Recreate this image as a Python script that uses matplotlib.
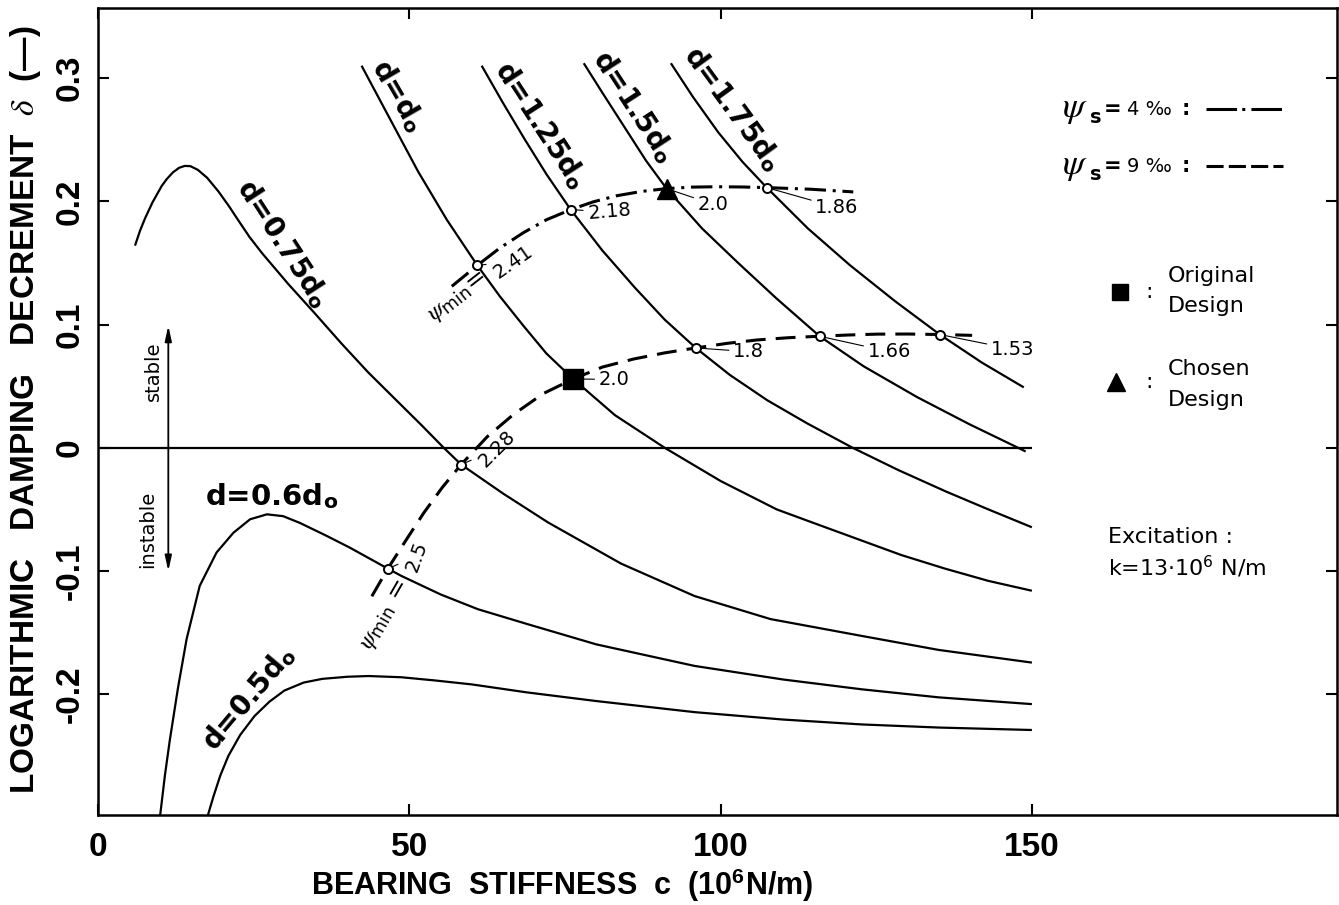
import matplotlib
matplotlib.use("Agg")
import matplotlib.pyplot as plt

plt.rcParams['mathtext.fontset'] = 'stix'
plt.rcParams['axes.unicode_minus'] = False

# bearing stiffness c (10^6 N/m) and log. damping decrement for each bearing diameter
c_050 = [17.5, 18.5, 19.6, 20.9, 22.8, 25.1, 27.5, 29.9, 33.0, 36.0, 40.0, 43.4, 48.7, 54.1,
         60.0, 68.9, 80.0, 95.8, 110.0, 122.7, 135.0, 150.0]
d_050 = [-0.30, -0.283, -0.266, -0.25, -0.233, -0.2177, -0.206, -0.197, -0.1905, -0.1875,
         -0.1858, -0.1852, -0.1862, -0.1888, -0.192, -0.1985, -0.2055, -0.2145, -0.2205,
         -0.2245, -0.227, -0.229]

c_060 = [9.9, 10.7, 11.5, 12.8, 14.2, 16.3, 19.0, 21.7, 24.4, 27.1, 29.7, 32.4, 36.5, 40.4,
         46.5, 48.7, 55.0, 61.0, 68.9, 80.0, 95.8, 110.0, 122.7, 135.0, 150.0]
d_060 = [-0.30, -0.266, -0.237, -0.195, -0.155, -0.112, -0.085, -0.069, -0.058, -0.054,
         -0.0555, -0.061, -0.071, -0.081, -0.098, -0.104, -0.119, -0.131, -0.143, -0.1595,
         -0.177, -0.188, -0.196, -0.2025, -0.208]

c_075 = [5.9, 6.7, 7.5, 8.7, 10.2, 11.0, 12.0, 13.0, 13.9, 14.8, 16.0, 17.5, 19.3, 21.0,
         22.5, 24.3, 26.3, 30.5, 34.8, 39.0, 43.4, 48.5, 52.0, 55.5, 58.3, 65.0, 72.3, 84.0,
         95.8, 108.0, 122.7, 135.0, 150.0]
d_075 = [0.164, 0.176, 0.186, 0.199, 0.2125, 0.218, 0.2235, 0.2272, 0.2287, 0.2285, 0.2255,
         0.219, 0.208, 0.196, 0.1845, 0.171, 0.158, 0.133, 0.109, 0.085, 0.061, 0.0355, 0.018,
         0.0, -0.0136, -0.037, -0.0607, -0.094, -0.1203, -0.139, -0.1527, -0.164, -0.1743]

c_100 = [42.3, 46.0, 51.4, 56.0, 60.9, 64.5, 68.3, 72.0, 76.3, 83.0, 91.0, 100.0, 109.0,
         116.0, 122.5, 129.0, 136.0, 143.0, 150.0]
d_100 = [0.31, 0.275, 0.224, 0.185, 0.148, 0.123, 0.099, 0.0765, 0.0558, 0.0265, 0.0, -0.027,
         -0.050, -0.063, -0.075, -0.087, -0.098, -0.108, -0.116]

c_125 = [61.6, 65.0, 68.5, 72.0, 75.9, 81.0, 86.2, 91.0, 96.0, 101.5, 107.5, 114.0, 121.2,
         128.5, 136.2, 143.0, 150.0]
d_125 = [0.31, 0.280, 0.2504, 0.222, 0.1932, 0.160, 0.130, 0.104, 0.081, 0.059, 0.0385,
         0.0195, 0.0, -0.018, -0.0355, -0.050, -0.0645]

c_150 = [78.0, 81.0, 85.2, 88.0, 91.3, 97.0, 102.8, 109.0, 115.9, 123.0, 131.6, 140.0, 149.0]
d_150 = [0.312, 0.288, 0.255, 0.233, 0.2103, 0.178, 0.150, 0.121, 0.0905, 0.066, 0.041,
         0.019, -0.003]

c_175 = [92.0, 95.5, 99.6, 103.5, 107.4, 114.0, 120.8, 128.0, 135.2, 142.0, 148.7]
d_175 = [0.312, 0.285, 0.256, 0.232, 0.2111, 0.178, 0.148, 0.119, 0.0919, 0.069, 0.049]

# minimum-psi lines for psi_s = 4 permille and 9 permille
c_psi4 = [56.8, 60.9, 64.5, 68.3, 72.0, 75.9, 79.5, 83.3, 87.3, 91.3, 95.4, 99.4, 103.4,
          107.4, 114.4, 121.3]
d_psi4 = [0.131, 0.148, 0.162, 0.1745, 0.185, 0.1932, 0.1995, 0.2045, 0.208, 0.2103, 0.2115,
          0.2118, 0.2116, 0.2111, 0.2098, 0.2076]
c_psi9 = [43.95, 46.5, 49.5, 52.3, 55.3, 58.3, 62.5, 66.7, 71.5, 76.3, 81.0, 86.0, 91.0, 96.0,
          101.0, 105.9, 110.9, 115.9, 120.5, 125.1, 130.0, 135.2, 140.4]
d_psi9 = [-0.1205, -0.0982, -0.0745, -0.0528, -0.032, -0.0136, 0.009, 0.027, 0.044, 0.0558,
          0.0655, 0.072, 0.077, 0.081, 0.0847, 0.0875, 0.0893, 0.0905, 0.0915, 0.0922, 0.0923,
          0.0919, 0.0912]

# marked points and their psi_min values
mark_c = [60.9, 75.9, 107.4, 46.5, 58.3, 96.0, 115.9, 135.2]
mark_d = [0.148, 0.1932, 0.2111, -0.0982, -0.0136, 0.081, 0.0905, 0.0919]
orig_c, orig_d = 76.3, 0.0558
chosen_c, chosen_d = 91.3, 0.2103

# (text, marker c, marker d, text c, text d, rotation, ha)
value_labels = [
    ("2.41", 60.9, 0.148, 66.7, 0.151, 35, "center"),
    ("2.18", 75.9, 0.1932, 78.7, 0.190, 5, "left"),
    ("2.0", 91.3, 0.2103, 96.3, 0.1976, 0, "left"),
    ("1.86", 107.4, 0.2111, 115.2, 0.195, 0, "left"),
    ("2.0", 76.3, 0.0558, 80.4, 0.0555, 0, "left"),
    ("1.8", 96.0, 0.081, 102.0, 0.078, 0, "left"),
    ("1.66", 115.9, 0.0905, 123.6, 0.078, 0, "left"),
    ("1.53", 135.2, 0.0919, 143.4, 0.080, 0, "left"),
    ("2.28", 58.3, -0.0136, 64.1, -0.001, 45, "center"),
    ("2.5", 46.5, -0.0982, 51.1, -0.088, 70, "center"),
]

sub_o = "$_\\mathregular{o}$"
curve_labels = [
    ("d=0.75d" + sub_o, 29.7, 0.166, -57, "center"),
    ("d=d" + sub_o, 48.2, 0.286, -60, "center"),
    ("d=1.25d" + sub_o, 71.1, 0.262, -57, "center"),
    ("d=1.5d" + sub_o, 86.0, 0.277, -57, "center"),
    ("d=1.75d" + sub_o, 101.9, 0.275, -54, "center"),
    ("d=0.5d" + sub_o, 24.2, -0.203, 50, "center"),
]

txt_font = ['DejaVu Sans']
axis_font = ['Liberation Sans', 'DejaVu Sans']

fig = plt.figure(figsize=(13.39, 9.05), dpi=100)
ax = fig.add_axes([0.0734, 0.0994, 0.925, 0.892])

for c, d in [(c_050, d_050), (c_060, d_060), (c_075, d_075), (c_100, d_100),
             (c_125, d_125), (c_150, d_150), (c_175, d_175)]:
    ax.plot(c, d, color='black', lw=1.6, solid_capstyle='butt', solid_joinstyle='round')

ax.hlines(0, 0, 150, color='black', lw=1.6)

ax.plot(c_psi4, d_psi4, color='black', lw=2.2, dashes=(7, 2.2, 1, 2.2))
ax.plot(c_psi9, d_psi9, color='black', lw=2.2, dashes=(6.5, 3.3))

for txt, mc, md, tc, td, rot, ha in value_labels:
    ax.annotate(txt, xy=(mc, md), xytext=(tc, td), rotation=rot, ha=ha, va='center',
                fontsize=14, family=txt_font, rotation_mode='anchor',
                arrowprops=dict(arrowstyle='-', lw=0.8, color='black', shrinkA=1, shrinkB=2))

ax.plot(mark_c, mark_d, 'o', ms=6.5, mfc='white', mec='black', mew=1.4, zorder=5)
ax.plot(orig_c, orig_d, 's', ms=14, color='black', zorder=5)
ax.plot(chosen_c, chosen_d, '^', ms=15, color='black', zorder=5)

for txt, x, y, rot, ha in curve_labels:
    ax.text(x, y, txt, rotation=rot, ha=ha, va='center', fontsize=20, fontweight='bold',
            family=txt_font, rotation_mode='anchor')
ax.text(17.2, -0.0395, "d=0.6d" + sub_o, ha='left', va='center', fontsize=21,
        fontweight='bold', family=txt_font)

ax.text(57.8, 0.1227, "$\\psi_\\mathregular{min}$=", rotation=38, ha='center', va='center',
        fontsize=18, family=txt_font, rotation_mode='anchor')
ax.text(46.1, -0.1355, "$\\psi_\\mathregular{min}$ =", rotation=60, ha='center', va='center',
        fontsize=18, family=txt_font, rotation_mode='anchor')

# stable / instable arrow
arrow_c = 11.25
for tip in (0.099, -0.1):
    ax.annotate('', xy=(arrow_c, tip), xytext=(arrow_c, 0.0),
                arrowprops=dict(arrowstyle='-|>,head_length=0.9,head_width=0.2', lw=1.3,
                                color='black', shrinkA=0, shrinkB=0))
ax.text(8.8, 0.062, "stable", rotation=90, ha='center', va='center', fontsize=14, family=txt_font)
ax.text(8.0, -0.066, "instable", rotation=90, ha='center', va='center', fontsize=14,
        family=txt_font)

# legend block on the right
for y_leg, val in [(0.2746, "4"), (0.2286, "9")]:
    ax.text(154.9, y_leg, "$\\psi$", ha='left', va='center', fontsize=26)
    ax.text(159.3, y_leg - 0.007, "s", ha='left', va='center', fontsize=14, fontweight='bold',
            family=txt_font)
    ax.text(161.5, y_leg, "=", ha='left', va='center', fontsize=15, fontweight='bold',
            family=txt_font)
    ax.text(165.3, y_leg, val + " \u2030", ha='left', va='center', fontsize=14, family=txt_font)
    ax.text(174.8, y_leg, ":", ha='center', va='center', fontsize=15, fontweight='bold',
            family=txt_font)
leg_c = [178.0, 190.3]
ax.plot(leg_c, [0.2746, 0.2746], color='black', lw=2.2, dashes=(10, 1.7, 1, 2))
ax.plot(leg_c, [0.2286, 0.2286], color='black', lw=2.2, dashes=(5.6, 1.7))

ax.plot(164.1, 0.126, 's', ms=11, color='black')
ax.text(168.8, 0.126, ":", ha='center', va='center', fontsize=16, family=txt_font)
ax.text(171.8, 0.139, "Original", ha='left', va='center', fontsize=16, family=txt_font)
ax.text(171.8, 0.115, "Design", ha='left', va='center', fontsize=16, family=txt_font)
ax.plot(163.5, 0.053, '^', ms=13, color='black')
ax.text(168.8, 0.053, ":", ha='center', va='center', fontsize=16, family=txt_font)
ax.text(171.8, 0.0636, "Chosen", ha='left', va='center', fontsize=16, family=txt_font)
ax.text(171.8, 0.039, "Design", ha='left', va='center', fontsize=16, family=txt_font)

ax.text(162.2, -0.072, "Excitation :", ha='left', va='center', fontsize=16, family=txt_font)
ax.text(162.2, -0.0963, "k=13\u00b710$^\\mathregular{6}$ N/m", ha='left', va='center',
        fontsize=16, family=txt_font)

ax.set_xlim(0, 199)
ax.set_ylim(-0.298, 0.357)
ax.set_xticks([0, 50, 100, 150])
ax.set_xticklabels(["0", "50", "100", "150"])
ax.set_yticks([-0.2, -0.1, 0, 0.1, 0.2, 0.3])
ax.set_yticklabels(["-0.2", "-0.1", "0", "0.1", "0.2", "0.3"], rotation=90, va='center')
ax.tick_params(direction='in', length=8, width=1.5, top=True, right=True, labelsize=24)
ax.tick_params(axis='x', pad=12)
ax.tick_params(axis='y', pad=9)
for lab in ax.get_xticklabels() + ax.get_yticklabels():
    lab.set_family(axis_font)
    lab.set_fontweight('bold')
for sp in ax.spines.values():
    sp.set_linewidth(1.8)

fig.text(0.42, 0.022, "BEARING  STIFFNESS  c  (10$^\\mathregular{6}$N/m)", ha='center', va='center',
         fontsize=22, fontweight='bold', family=axis_font)
fig.text(0.0187, 0.547, "LOGARITHMIC   DAMPING   DECREMENT  $\\delta$  (\u2014)", rotation=90,
         ha='center', va='center', fontsize=24, fontweight='bold', family=axis_font)

fig.savefig("out.png", dpi=100)
